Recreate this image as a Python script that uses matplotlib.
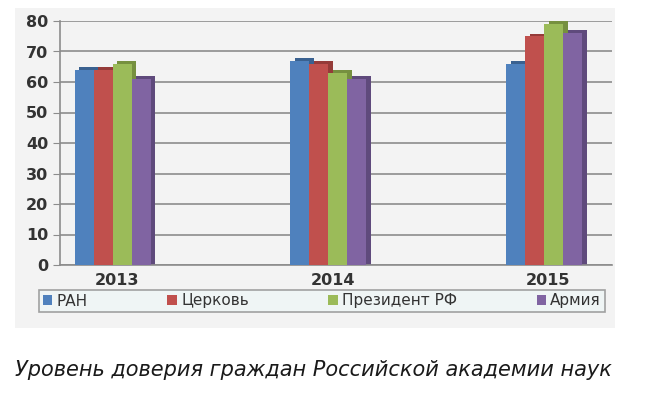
"""
Trust level chart (РАН / Церковь / Президент / Армия)
"""
import numpy as np
import matplotlib.pyplot as plt
from matplotlib.patches import Rectangle

years = ['2013', '2014', '2015']
series = ['РАН', 'Церковь', 'Президент РФ', 'Армия']
ran = [64, 67, 66]
church = [64, 66, 75]
president = [66, 63, 79]
army = [61, 61, 76]
colors = ['#4f81bd', '#c0504d', '#9bbb59', '#8064a2']
dark = ['#3a6190', '#953b39', '#76903f', '#5f4a7c']

plt.rcParams['font.family'] = ['DejaVu Sans']

fig = plt.figure(figsize=(6.52, 3.99), dpi=100)
fig.patch.set_facecolor('white')
# gray chart area
fig.patches.append(Rectangle((15/652, 1-328/399), 600/652, 320/399,
                             transform=fig.transFigure, facecolor='#f3f3f3',
                             edgecolor='none', zorder=-5))

ax = fig.add_axes([60/652, 1-265/399, 552/652, 244/399])
ax.set_facecolor('none')

x = np.arange(len(years))
w = 0.088
vals = [ran, church, president, army]
for i, v in enumerate(vals):
    xs = x + (i - 1.5) * w - 0.02
    # fake 3d side
    ax.bar(xs + 0.022, np.array(v) + 0.9, w, color=dark[i], zorder=2)
    ax.bar(xs, v, w, color=colors[i], label=series[i], zorder=3)

ax.set_ylim(0, 80)
ax.set_xlim(-0.264, 2.296)
ax.set_yticks(range(0, 81, 10))
ax.yaxis.grid(True, color='#8c8c8c', linewidth=1.2)
ax.set_axisbelow(True)
for s in ['top', 'right']:
    ax.spines[s].set_visible(False)
ax.spines['left'].set_color('#8c8c8c')
ax.spines['bottom'].set_color('#8c8c8c')
ax.spines['left'].set_linewidth(1.2)
ax.spines['bottom'].set_linewidth(1.2)
ax.tick_params(axis='y', colors='#8c8c8c', length=5, labelsize=11.5, labelcolor='#333333')
ax.tick_params(axis='x', length=0, labelsize=11.5, labelcolor='#333333', pad=6)
for lab in ax.get_yticklabels():
    lab.set_fontweight('bold')
ax.set_xticks(x)
ax.set_xticklabels(years, fontweight='bold')

leg = fig.legend(loc='center', bbox_to_anchor=(322/652, 1-301/399), ncol=4,
                 fontsize=11, frameon=True, fancybox=False, handlelength=0.6,
                 handleheight=0.6, handletextpad=0.3, columnspacing=5.2,
                 borderpad=0.25)
leg.get_frame().set_edgecolor('#8c8c8c')
leg.get_frame().set_facecolor('#eef6f6')
leg.get_frame().set_linewidth(1.2)
for t in leg.get_texts():
    t.set_color('#333333')

fig.text(15/652, 1-370/399, 'Уровень доверия граждан Российской академии наук',
         fontsize=15, style='italic', color='#1a1a1a', va='center', ha='left')

plt.savefig('out.png', dpi=100)
